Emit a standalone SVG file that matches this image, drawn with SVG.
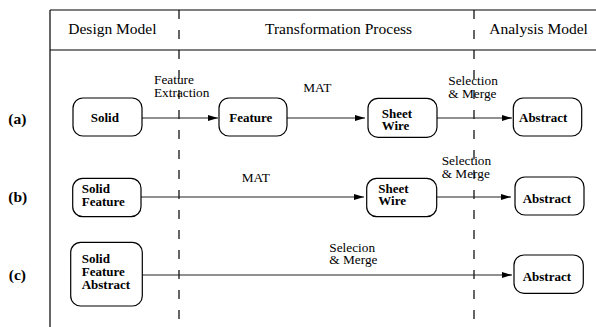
<svg xmlns="http://www.w3.org/2000/svg" width="596" height="327" viewBox="0 0 596 327">
<style>
.frame{stroke:#000;stroke-width:1.2;fill:none}
.dash{stroke:#000;stroke-width:1.2;fill:none;stroke-dasharray:9 11}
.hdr{font-family:"Liberation Serif","Times New Roman",serif;font-size:15.5px;fill:#000}
.row{font-family:"Liberation Serif","Times New Roman",serif;font-size:15.5px;font-weight:bold;fill:#000}
.lbl{font-family:"Liberation Serif","Times New Roman",serif;font-size:13.3px;fill:#000}
.box{fill:#fff;stroke:#000;stroke-width:1.2}
.nt{font-family:"Liberation Serif","Times New Roman",serif;font-size:13px;font-weight:bold;fill:#000}
.edge{stroke:#222;stroke-width:1.1;fill:none;marker-end:url(#ah)}
</style>
<defs>
<marker id="ah" markerUnits="userSpaceOnUse" markerWidth="10" markerHeight="6" refX="10" refY="3" orient="auto">
<path d="M0,0 L10,3 L0,6 z" fill="#000"/>
</marker>
</defs>
<rect width="596" height="327" fill="#fff"/>
<g id="frame">
<line class="frame" x1="50" y1="10" x2="596" y2="10"/>
<line class="frame" x1="50" y1="50" x2="596" y2="50"/>
<line class="frame" x1="50" y1="10" x2="50" y2="327"/>
<line class="dash" x1="179" y1="10" x2="179" y2="327"/>
<line class="dash" x1="474" y1="10" x2="474" y2="327"/>
<text class="hdr" x="68.3" y="33.5">Design Model</text>
<text class="hdr" x="265" y="33.5">Transformation Process</text>
<text class="hdr" x="489.3" y="34">Analysis Model</text>
<text class="row" x="8.3" y="124">(a)</text>
<text class="row" x="8.3" y="202">(b)</text>
<text class="row" x="8.8" y="280">(c)</text>
</g>
<g id="connectors">
<line class="edge" x1="142" y1="118" x2="218" y2="118"/>
<line class="edge" x1="287" y1="118" x2="365" y2="118"/>
<line class="edge" x1="437" y1="118" x2="512" y2="118"/>
<line class="edge" x1="141" y1="197" x2="364" y2="197"/>
<line class="edge" x1="437" y1="197" x2="511" y2="197"/>
<line class="edge" x1="142" y1="275" x2="512" y2="275"/>
<text class="lbl" x="154" y="84">Feature<tspan x="154" dy="13.3">Extraction</tspan></text>
<text class="lbl" x="303.3" y="92.3">MAT</text>
<text class="lbl" x="448.3" y="85">Selection<tspan x="448.3" dy="12.7">&amp; Merge</tspan></text>
<text class="lbl" x="241.7" y="181.7">MAT</text>
<text class="lbl" x="441.7" y="165">Selection<tspan x="441.7" dy="12.5">&amp; Merge</tspan></text>
<text class="lbl" x="329.3" y="251.7">Selecion<tspan x="329.3" dy="12.3">&amp; Merge</tspan></text>
</g>
<g id="a-solid">
<rect class="box" x="73" y="98" width="69" height="38" rx="10"/>
<text class="nt" x="90.7" y="122.3">Solid</text>
</g>
<g id="a-feature">
<rect class="box" x="219" y="98" width="68" height="38" rx="10"/>
<text class="nt" x="229.3" y="122.3">Feature</text>
</g>
<g id="a-sheetwire">
<rect class="box" x="368" y="98.3" width="69" height="39" rx="10"/>
<text class="nt" x="381.7" y="117.5">Sheet<tspan x="381.7" dy="12.5">Wire</tspan></text>
</g>
<g id="a-abstract">
<rect class="box" x="513.3" y="98" width="68.4" height="38" rx="10"/>
<text class="nt" x="519" y="122.3">Abstract</text>
</g>
<g id="b-solidfeature">
<rect class="box" x="72.7" y="178.3" width="68.3" height="38.4" rx="10"/>
<text class="nt" x="81.7" y="192.7">Solid<tspan x="81.7" dy="13.3">Feature</tspan></text>
</g>
<g id="b-sheetwire">
<rect class="box" x="366.7" y="178.3" width="70" height="38.4" rx="10"/>
<text class="nt" x="378.3" y="192.7">Sheet<tspan x="378.3" dy="12.3">Wire</tspan></text>
</g>
<g id="b-abstract">
<rect class="box" x="515" y="177" width="69" height="38" rx="10"/>
<text class="nt" x="522.7" y="202.7">Abstract</text>
</g>
<g id="c-solidfeatureabstract">
<rect class="box" x="70.7" y="242.3" width="71.6" height="63.7" rx="10"/>
<text class="nt" x="81.7" y="262.7">Solid<tspan x="81.7" dy="13.3">Feature</tspan><tspan x="81.7" dy="13">Abstract</tspan></text>
</g>
<g id="c-abstract">
<rect class="box" x="514" y="255" width="69.3" height="38.3" rx="10"/>
<text class="nt" x="522.7" y="280.7">Abstract</text>
</g>
</svg>
